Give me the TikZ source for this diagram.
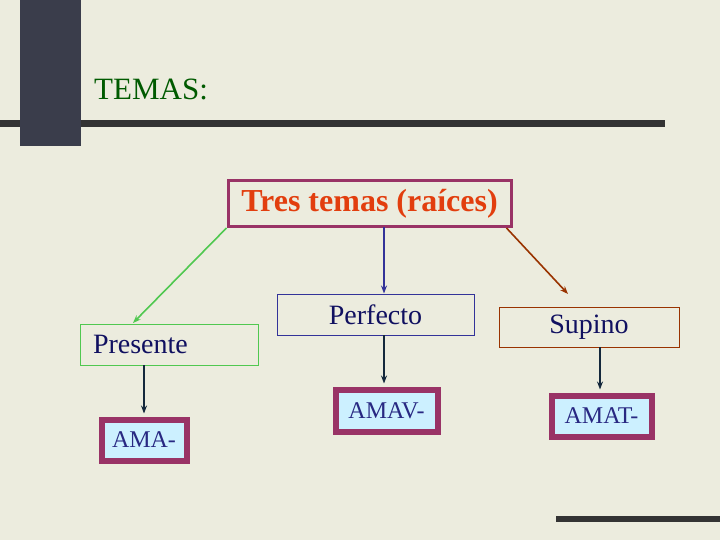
\documentclass[tikz,border=0pt]{standalone}
\usepackage{fontspec}
\setmainfont{Liberation Serif}
\usetikzlibrary{arrows.meta,calc}
\definecolor{bgc}{RGB}{236,236,222}
\definecolor{barc}{RGB}{58,61,75}
\definecolor{linec}{RGB}{51,51,51}
\definecolor{purp}{RGB}{153,51,102}
\definecolor{orng}{RGB}{226,62,14}
\definecolor{navy}{RGB}{16,16,96}
\definecolor{amac}{RGB}{40,40,130}
\definecolor{cyanf}{RGB}{204,240,255}
\definecolor{grn}{RGB}{80,200,80}
\definecolor{pblue}{RGB}{51,51,153}
\definecolor{brwn}{RGB}{153,51,0}
\definecolor{darr}{RGB}{20,40,60}
\tikzset{
  box/.style={draw, line width=1pt, inner sep=0pt, font=\fontsize{28}{30}\selectfont, text=navy},
  stembox/.style={draw=purp, line width=6pt, fill=cyanf, inner sep=0pt, font=\fontsize{24}{26}\selectfont, text=amac},
  arr/.style={-{Stealth[length=8pt,width=6pt]}, line width=1.6pt}
}
\begin{document}
\begin{tikzpicture}[x=1pt,y=-1pt]
\useasboundingbox (0,0) rectangle (720,540);
\fill[bgc] (0,0) rectangle (720,540);
% decoration
\fill[linec] (0,120) rectangle (665,127);
\fill[barc] (20,0) rectangle (81,146);
\fill[linec] (556,516) rectangle (720,522);
\node[anchor=base west, inner sep=0pt, text={rgb,255:red,0;green,90;blue,0}, font=\fontsize{31}{33}\selectfont] (title) at (94,100) {TEMAS:};
% main box
\node[draw=purp, line width=3pt, minimum width=283pt, minimum height=46pt, inner sep=0pt, text=orng, font=\fontsize{32}{34}\selectfont\bfseries] (tres) at (369.5,203.5) {Tres temas (raíces)};
% second level
\node[box, draw=grn, minimum width=178pt, minimum height=41pt, text width=152pt, align=left, inner xsep=13pt] (pres) at (169,344.5) {Presente};
\node[box, draw=pblue, minimum width=197pt, minimum height=41pt] (perf) at (375.5,314.5) {Perfecto};
\node[box, draw=brwn, minimum width=180pt, minimum height=40pt] (sup) at (589,327) {Supino};
% stems
\node[stembox, minimum width=85pt, minimum height=41pt] (ama) at (144,440) {AMA-};
\node[stembox, minimum width=102pt, minimum height=42pt] (amav) at (386.5,410.5) {AMAV-};
\node[stembox, minimum width=100pt, minimum height=41pt] (amat) at (601.5,416) {AMAT-};
% connectors
\coordinate (gend) at (133,323);
\coordinate (bend) at (568,294);
\draw[arr, draw=grn, fill=grn] (tres.south west) -- (gend);
\draw[arr, draw=pblue] (384,227.5) coordinate (ps) -- (ps |- perf.north);
\draw[arr, draw=brwn] ($(tres.south east)+(-6,0)$) -- (bend);
\draw[arr, draw=darr] (144,365) coordinate (a1) -- ($(a1 |- ama.north)+(0,-3)$);
\draw[arr, draw=darr] (384,335) coordinate (a2) -- ($(a2 |- amav.north)+(0,-3)$);
\draw[arr, draw=darr] (600,347) coordinate (a3) -- ($(a3 |- amat.north)+(0,-3)$);
\end{tikzpicture}
\end{document}
